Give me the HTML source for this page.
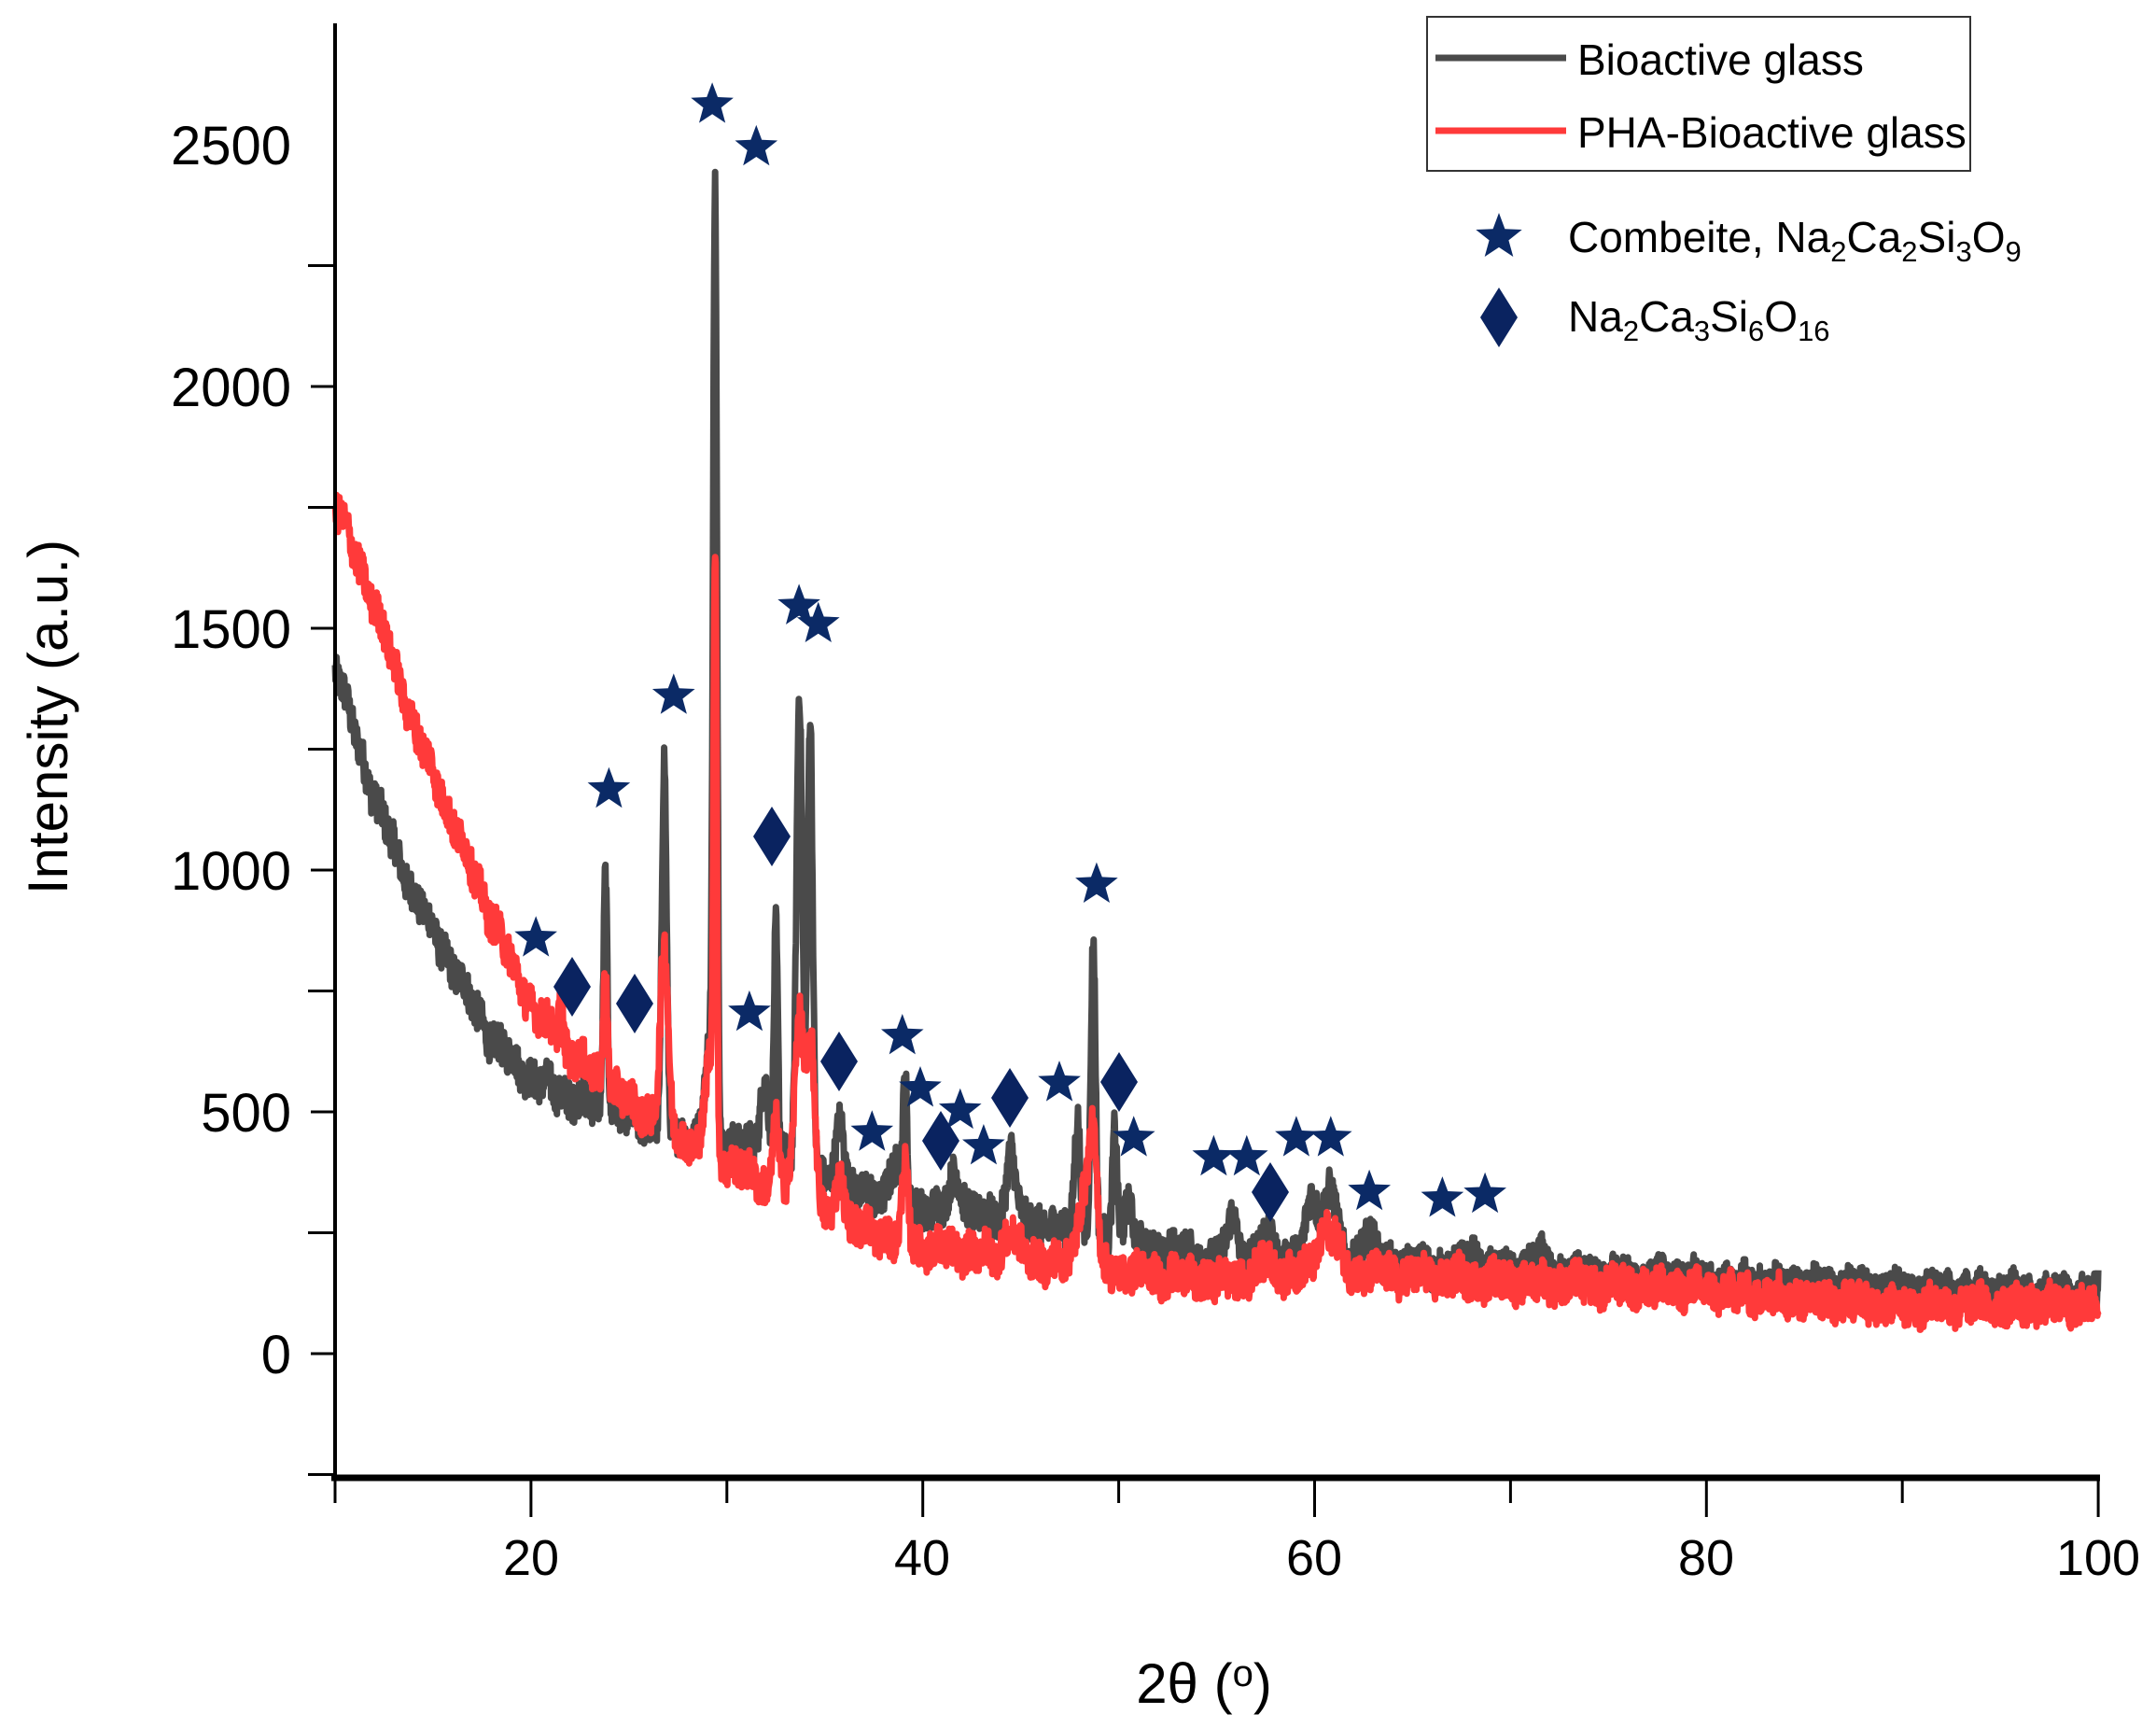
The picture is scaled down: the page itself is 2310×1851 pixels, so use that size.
<!DOCTYPE html>
<html><head><meta charset="utf-8"><style>
html,body{margin:0;padding:0;background:#fff;width:2310px;height:1851px;overflow:hidden}
text{font-family:"Liberation Sans",sans-serif}
</style></head><body>
<svg id="s" width="2310" height="1851" viewBox="0 0 2310 1851" xmlns="http://www.w3.org/2000/svg">
<g id="curves"></g>
<line x1="359" y1="25" x2="359" y2="1585" stroke="#000" stroke-width="4"/>
<line x1="355" y1="1583" x2="2250" y2="1583" stroke="#000" stroke-width="7"/>
<g stroke="#000" stroke-width="3" id="ticks"></g>
<g font-size="58" text-anchor="end" fill="#000">
<text x="312" y="176">2500</text>
<text x="312" y="435">2000</text>
<text x="312" y="694">1500</text>
<text x="312" y="953">1000</text>
<text x="312" y="1212">500</text>
<text x="312" y="1471">0</text>
</g>
<g font-size="54" text-anchor="middle" fill="#000">
<text x="569" y="1687">20</text>
<text x="988" y="1687">40</text>
<text x="1408" y="1687">60</text>
<text x="1828" y="1687">80</text>
<text x="2248" y="1687">100</text>
</g>
<text x="1290" y="1824" font-size="60" text-anchor="middle">2θ (<tspan dy="-18" font-size="40">o</tspan><tspan dy="18">)</tspan></text>
<text transform="translate(72,768) rotate(-90)" font-size="60" text-anchor="middle">Intensity (a.u.)</text>
<rect x="1529" y="18" width="582" height="165" fill="#fff" stroke="#333" stroke-width="2"/>
<line x1="1538" y1="62" x2="1678" y2="62" stroke="#4a4a4a" stroke-width="7"/>
<line x1="1538" y1="140" x2="1678" y2="140" stroke="#ff3a3a" stroke-width="7"/>
<g font-size="46" fill="#000">
<text x="1690" y="80">Bioactive glass</text>
<text x="1690" y="158">PHA-Bioactive glass</text>
<text x="1680" y="270">Combeite, Na<tspan font-size="31" dy="10">2</tspan><tspan dy="-10">Ca</tspan><tspan font-size="31" dy="10">2</tspan><tspan dy="-10">Si</tspan><tspan font-size="31" dy="10">3</tspan><tspan dy="-10">O</tspan><tspan font-size="31" dy="10">9</tspan></text>
<text x="1680" y="355">Na<tspan font-size="31" dy="10">2</tspan><tspan dy="-10">Ca</tspan><tspan font-size="31" dy="10">3</tspan><tspan dy="-10">Si</tspan><tspan font-size="31" dy="10">6</tspan><tspan dy="-10">O</tspan><tspan font-size="31" dy="10">16</tspan></text>
</g>
<g id="marks"></g>
</svg>
<script>
(function(){
var NS="http://www.w3.org/2000/svg";
function X(x){return 359+(x-10)*20.99;}
function Y(v){return 1450-v*0.518;}
var seed=12345;function rnd(){seed=(seed*1103515245+12345)%2147483648;return seed/2147483648;}
function interp(k,x){for(var i=0;i<k.length-1;i++){if(x<=k[i+1][0]){var t=(x-k[i][0])/(k[i+1][0]-k[i][0]);return k[i][1]+t*(k[i+1][1]-k[i][1]);}}return k[k.length-1][1];}
var gk=[[10,1420],[12,1150],[14,950],[16,800],[18,650],[20,570],[22,530],[25,490],[28,450],[32,420],[36,340],[40,300],[45,280],[50,225],[55,200],[60,200],[65,180],[70,170],[80,150],[90,130],[100,120]];
var rk=[[10,1760],[12,1550],[14,1300],[16,1100],[18,900],[20,720],[22,620],[25,520],[28,440],[32,350],[36,270],[40,220],[45,200],[50,170],[55,150],[60,170],[65,160],[70,150],[80,130],[90,100],[100,100]];
var gp=[[23.8,500,.1],[26.8,750,.12],[29.4,1930,.1],[29.1,200,.2],[32.5,480,.1],[31.9,150,.2],[33.7,980,.15],[34.25,960,.13],[35.8,150,.2],[38.6,80,.3],[39.1,240,.1],[41.7,80,.3],[44.5,150,.2],[47.9,250,.15],[48.7,620,.12],[49.8,250,.12],[50.5,100,.2],[55.8,100,.2],[57.5,50,.3],[59.9,130,.3],[60.8,150,.3],[62.7,60,.3],[68,30,.3],[71.5,30,.4]];
var rp=[[21.5,100,.1],[23.8,250,.1],[26.8,360,.2],[29.4,1200,.08],[29.1,200,.2],[32.5,150,.15],[33.7,380,.25],[34.3,330,.2],[35.8,100,.2],[39.1,150,.15],[44.5,50,.3],[48.2,150,.3],[48.7,250,.2],[60.7,90,.5],[57.5,30,.4]];
function build(k,p,col,amp){
 var d="";
 for(var x=10;x<=100.001;x+=0.025){
  var v=interp(k,x);
  for(var i=0;i<p.length;i++){var z=(x-p[i][0])/p[i][2];if(Math.abs(z)<8)v+=p[i][1]*Math.exp(-0.5*z*z);}
  v+=(rnd()-0.5)*amp+(Math.sin(x*3.1)+Math.sin(x*7.3))*8;
  d+=(d?"L":"M")+X(x).toFixed(1)+" "+Y(v).toFixed(1);
 }
 var pa=document.createElementNS(NS,"path");pa.setAttribute("d",d);pa.setAttribute("fill","none");
 pa.setAttribute("stroke",col);pa.setAttribute("stroke-width","7");pa.setAttribute("stroke-linejoin","round");
 document.getElementById("curves").appendChild(pa);
}
build(gk,gp,"#4a4a4a",80);
build(rk,rp,"#ff3a3a",80);
var t=document.getElementById("ticks"),h="";
for(var i=0;i<=10;i++){var v=-250+i*250;var y=Y(v);h+='<line x1="'+(i%2?333:330)+'" y1="'+y+'" x2="359" y2="'+y+'"/>';}
for(var x=10;x<=100;x+=10){var xx=X(x);h+='<line x1="'+xx+'" y1="1583" x2="'+xx+'" y2="'+((x%20==0)?1625:1610)+'"/>';}
t.innerHTML=h;
function star(cx,cy,r){var s="";for(var i=0;i<10;i++){var a=-Math.PI/2+i*Math.PI/5;var rr=i%2?r*0.42:r;s+=(cx+rr*Math.cos(a)).toFixed(1)+","+(cy+rr*Math.sin(a)).toFixed(1)+" ";}return '<polygon points="'+s+'" fill="#0b2a66"/>';}
function dia(cx,cy){return '<polygon points="'+cx+','+(cy-32)+' '+(cx+20)+','+cy+' '+cx+','+(cy+32)+' '+(cx-20)+','+cy+'" fill="#0a2360"/>';}
var S=[[389,681],[442,573],[489,505],[517,76],[549,107],[544,735],[580,440],[594,453],[633,822],[655,752],[668,790],[697,806],[714,832],[769,786],[796,642],[823,826],[881,840],[905,840],[941,826],[966,826],[994,865],[1047,870],[1078,867]];
var D=[[415,716],[461,728],[560,607],[609,770],[683,828],[733,797],[812,785],[922,865]];
var f=1.476,m="";
S.forEach(function(p){m+=star(p[0]*f,p[1]*f,24);});
D.forEach(function(p){m+=dia(Math.round(p[0]*f),Math.round(p[1]*f));});
m+=star(1606,254,26)+dia(1606,340);
document.getElementById("marks").innerHTML=m;
})();
</script>
</body></html>
